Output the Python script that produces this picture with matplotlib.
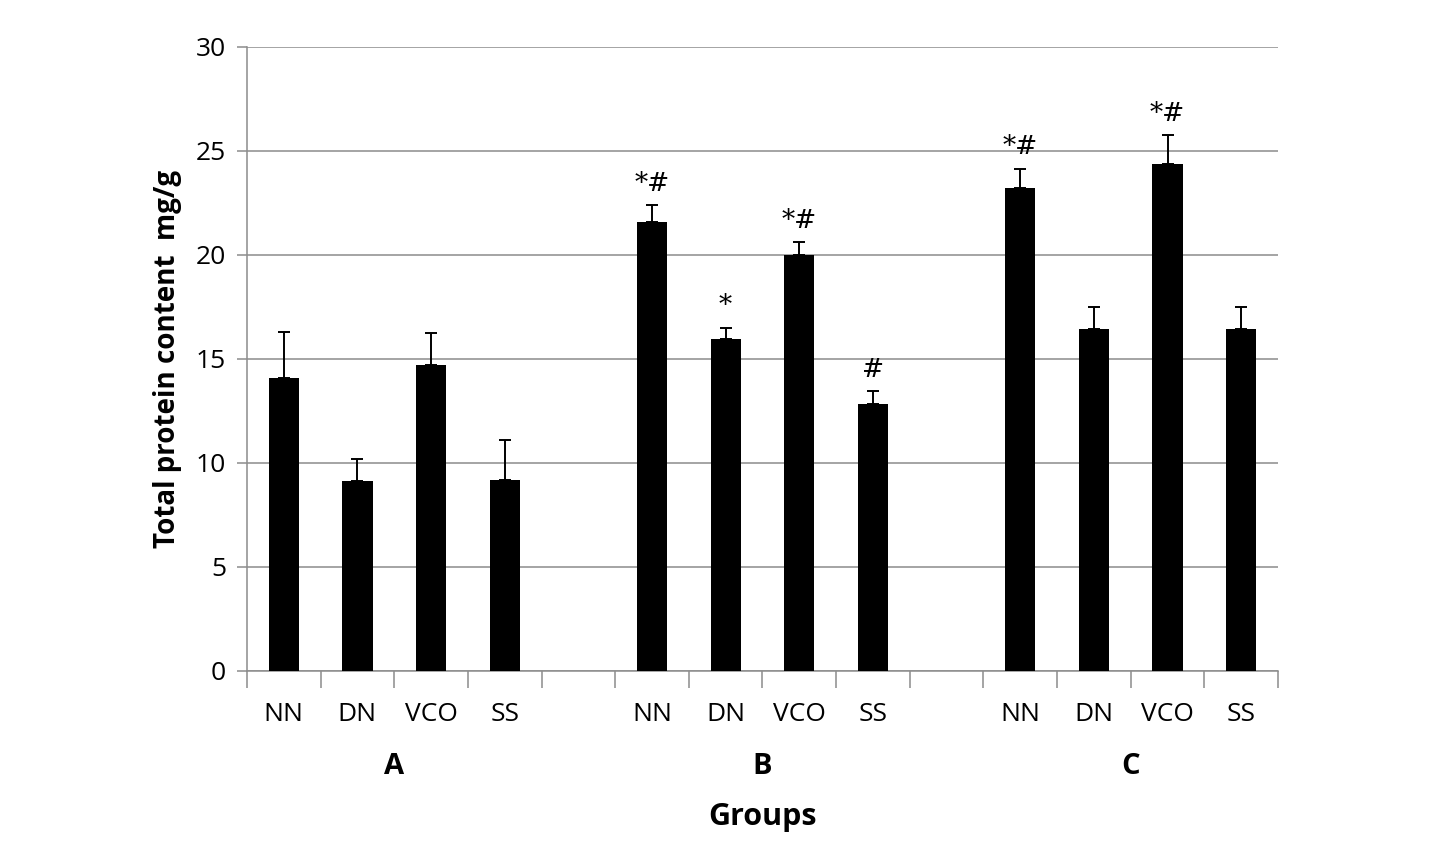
import numpy as np
import matplotlib
matplotlib.use("Agg")
import matplotlib.pyplot as plt

# data
groups = ["A", "B", "C"]
treatments = ["NN", "DN", "VCO", "SS"]
means_a = [14.1, 9.15, 14.7, 9.2]
means_b = [21.6, 15.95, 20.0, 12.85]
means_c = [23.2, 16.45, 24.35, 16.45]
err_a = [2.2, 1.05, 1.55, 1.9]
err_b = [0.8, 0.55, 0.6, 0.6]
err_c = [0.95, 1.05, 1.4, 1.05]
marks_a = ["", "", "", ""]
marks_b = ["*#", "*", "*#", "#"]
marks_c = ["*#", "", "*#", ""]

means = [means_a, means_b, means_c]
errs = [err_a, err_b, err_c]
marks = [marks_a, marks_b, marks_c]

plt.rcParams['font.family'] = ['Open Sans', 'DejaVu Sans']

fig = plt.figure(figsize=(14.5, 8.68), dpi=100)
ax = fig.add_axes([0.1703, 0.2270, 0.8814 - 0.1703, 0.9459 - 0.2270])

grey = "#8c8c8c"
xpos = []
for g in range(len(groups)):
    x = np.arange(len(treatments)) + g * (len(treatments) + 1)
    xpos.append(x)
    ax.bar(x, means[g], width=0.41, color="black", zorder=3)
    ax.errorbar(x, means[g], yerr=[np.zeros(len(x)), errs[g]], fmt="none",
                ecolor="black", elinewidth=1.4, capsize=4.5, capthick=1.4, zorder=4)
    for xi, m, e, s in zip(x, means[g], errs[g], marks[g]):
        if s:
            ax.text(xi, m + e + 0.45, s, ha="center", va="bottom",
                    fontsize=19, family="DejaVu Serif")
    ax.text(x.mean(), -4.6, groups[g], ha="center", va="center",
            fontsize=21, fontweight="bold")

n_slots = len(groups) * (len(treatments) + 1) - 1
ax.set_xlim(-0.5, n_slots - 0.5)
ax.set_ylim(0, 30)
ax.set_yticks(range(0, 31, 5))
ax.set_xticks(np.arange(-0.5, n_slots, 1.0))
ax.set_xticklabels([])
allx = np.concatenate(xpos)
for xi, lab in zip(allx, treatments * len(groups)):
    ax.text(xi, -2.1, lab, ha="center", va="center", fontsize=19)

ax.grid(axis="y", color=grey, linewidth=1.1, zorder=0)
for s in ["top", "right"]:
    ax.spines[s].set_visible(False)
ax.spines["left"].set_color(grey)
ax.spines["bottom"].set_color(grey)
ax.spines["left"].set_linewidth(1.1)
ax.spines["bottom"].set_linewidth(1.1)
ax.tick_params(axis="x", length=12, color=grey, width=1.1)
ax.tick_params(axis="y", length=7, color=grey, width=1.1, labelsize=19, pad=8)

ax.set_ylabel("Total protein content  mg/g", fontsize=20, fontweight="bold", labelpad=10)
ax.text((allx.min() + allx.max()) / 2, -7.0, "Groups", ha="center", va="center",
        fontsize=22, fontweight="bold")

fig.savefig("out.png", dpi=100)
